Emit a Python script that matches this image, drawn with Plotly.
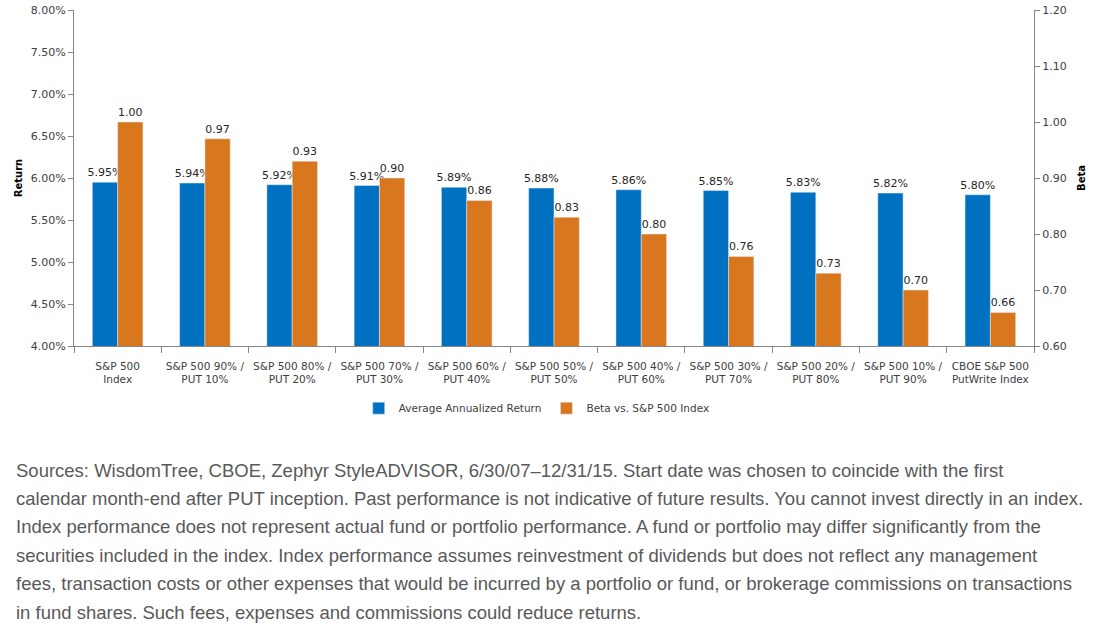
import plotly.graph_objects as go

categories = ["S&P 500<br>Index", "S&P 500 90% /<br>PUT 10%", "S&P 500 80% /<br>PUT 20%",
              "S&P 500 70% /<br>PUT 30%", "S&P 500 60% /<br>PUT 40%", "S&P 500 50% /<br>PUT 50%",
              "S&P 500 40% /<br>PUT 60%", "S&P 500 30% /<br>PUT 70%", "S&P 500 20% /<br>PUT 80%",
              "S&P 500 10% /<br>PUT 90%", "CBOE S&P 500<br>PutWrite Index"]
avg_return = [5.95, 5.94, 5.92, 5.91, 5.89, 5.88, 5.86, 5.85, 5.83, 5.82, 5.80]
beta = [1.00, 0.97, 0.93, 0.90, 0.86, 0.83, 0.80, 0.76, 0.73, 0.70, 0.66]
left_ticks = [4.0, 4.5, 5.0, 5.5, 6.0, 6.5, 7.0, 7.5, 8.0]
right_ticks = [0.6, 0.7, 0.8, 0.9, 1.0, 1.1, 1.2]

footnote_lines = [
    "Sources: WisdomTree, CBOE, Zephyr StyleADVISOR, 6/30/07\u201312/31/15. Start date was chosen to coincide with the first",
    "calendar month-end after PUT inception. Past performance is not indicative of future results. You cannot invest directly in an index.",
    "Index performance does not represent actual fund or portfolio performance. A fund or portfolio may differ significantly from the",
    "securities included in the index. Index performance assumes reinvestment of dividends but does not reflect any management",
    "fees, transaction costs or other expenses that would be incurred by a portfolio or fund, or brokerage commissions on transactions",
    "in fund shares. Such fees, expenses and commissions could reduce returns.",
]

BLUE = "#0070C0"
ORANGE = "#D9771E"
AXIS = "#868686"
TXT = "#404040"
FONT = "DejaVu Sans"

fig = go.Figure()
fig.add_trace(go.Bar(
    x=categories, y=avg_return, name="Average Annualized Return",
    marker_color=BLUE, width=0.29, offset=-0.29,
    text=[f"{v:.2f}%" for v in avg_return], textposition="outside",
    constraintext="none", textangle=0,
    textfont=dict(family=FONT, size=11, color="#262626"), cliponaxis=False,
    yaxis="y",
))
fig.add_trace(go.Bar(
    x=categories, y=beta, name="Beta vs. S&P 500 Index",
    marker_color=ORANGE, width=0.29, offset=0.0,
    text=[f"{v:.2f}" for v in beta], textposition="outside",
    constraintext="none", textangle=0,
    textfont=dict(family=FONT, size=11, color="#262626"), cliponaxis=False,
    yaxis="y2",
))

fig.update_layout(
    width=1099, height=642,
    margin=dict(l=74, r=65, t=10, b=296),
    paper_bgcolor="white", plot_bgcolor="white",
    font=dict(family=FONT, size=11, color=TXT),
    barmode="overlay",
    showlegend=True,
    legend=dict(orientation="h", x=0.482, xanchor="center", y=-0.185, yanchor="middle",
                font=dict(family=FONT, size=10.5, color=TXT), itemwidth=30,
                traceorder="normal"),
    xaxis=dict(type="category", showline=True, linecolor=AXIS, linewidth=1,
               ticks="outside", tickson="boundaries", ticklen=6, tickcolor=AXIS,
               tickangle=0, ticklabelstandoff=10, automargin=False,
               tickfont=dict(family=FONT, size=10.5, color=TXT), showgrid=False,
               range=[-0.5, 10.5]),
    yaxis=dict(range=[4.0, 8.0], tickvals=left_ticks,
               ticktext=[f"{v:.2f}%" for v in left_ticks],
               showline=True, linecolor=AXIS, ticks="outside", ticklen=5, tickcolor=AXIS,
               showgrid=False, zeroline=False, automargin=False,
               tickfont=dict(family=FONT, size=11, color=TXT),
               title=dict(text="<b>Return</b>", font=dict(family=FONT, size=10, color="black"), standoff=6)),
    yaxis2=dict(range=[0.6, 1.2], tickvals=right_ticks,
                ticktext=[f"{v:.2f}" for v in right_ticks],
                overlaying="y", side="right",
                showline=True, linecolor=AXIS, ticks="outside", ticklen=5, tickcolor=AXIS,
                showgrid=False, zeroline=False, automargin=False,
                tickfont=dict(family=FONT, size=11, color=TXT),
                title=dict(text="<b>Beta</b>", font=dict(family=FONT, size=10, color="black"), standoff=12)),
)

plot_top, plot_bottom = 10, 346
for i, line in enumerate(footnote_lines):
    py = 470 + 28.4 * i
    fig.add_annotation(
        text=line, xref="paper", yref="paper",
        x=(14 - 74) / 960, xanchor="left",
        y=(plot_bottom - py) / (plot_bottom - plot_top), yanchor="middle",
        showarrow=False, align="left",
        font=dict(family="Liberation Sans", size=18.5, color="#595959"),
    )

fig.write_html("out.html")
